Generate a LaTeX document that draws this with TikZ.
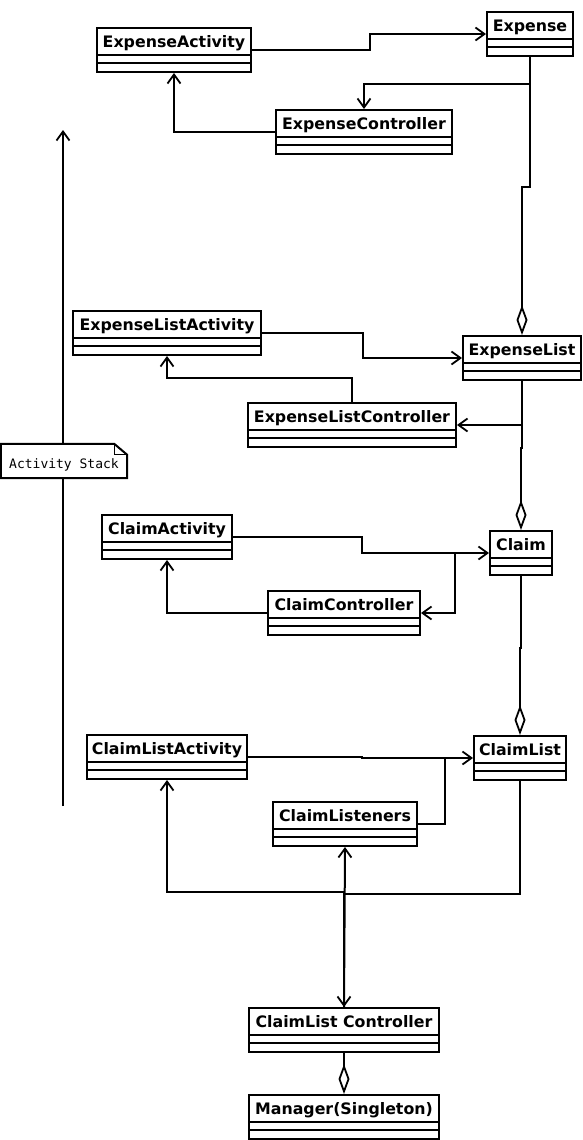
\documentclass[tikz,border=0pt]{standalone}
\usepackage{fontspec}
\newfontfamily\umlfont{DejaVu Sans}
\newfontfamily\notefont{DejaVu Sans Mono}
\usetikzlibrary{arrows.meta,calc}
\tikzset{
  cls/.style={draw, line width=2pt, fill=white, minimum height=44pt, inner sep=0pt},
  clsname/.style={font=\umlfont\bfseries\fontsize{15.8}{18}\selectfont, anchor=base, inner sep=0pt},
  conn/.style={line width=2pt},
  assoc/.style={conn, -{Straight Barb[length=9pt,width=13pt,line width=1.8pt]}},
  aggr/.style={conn, {Diamond[open,length=30pt,width=11pt,line width=1.8pt]}-},
}
\newcommand\umlclass[5]{%
  \node[cls, minimum width=#4pt] (#1) at (#2,#3) {};
  \draw[line width=2pt] ($(#1.north west)+(0,28)$) -- ($(#1.north east)+(0,28)$);
  \draw[line width=2pt] ($(#1.north west)+(0,36)$) -- ($(#1.north east)+(0,36)$);
  \node[clsname] at ($(#1.north)+(0,20.5)$) {#5};
}
\begin{document}
\begin{tikzpicture}[x=1pt,y=-1pt]
\useasboundingbox[fill=white] (0,0) rectangle (582,1140);

% activity stack line
\coordinate (stackTop) at (63,130);
\coordinate (stackBot) at (63,806);
\draw[assoc] (stackBot) -- (stackTop);

% classes
\umlclass{EA}{174}{50}{154}{ExpenseActivity}
\umlclass{E}{530}{34}{86}{Expense}
\umlclass{EC}{364}{132}{176}{ExpenseController}
\umlclass{ELA}{167}{333}{188}{ExpenseListActivity}
\umlclass{EL}{522}{358}{118}{ExpenseList}
\umlclass{ELC}{352}{425}{208}{ExpenseListController}
\umlclass{CA}{167}{537}{130}{ClaimActivity}
\umlclass{C}{521}{553}{62}{Claim}
\umlclass{CC}{344}{613}{152}{ClaimController}
\umlclass{CLA}{167}{757}{160}{ClaimListActivity}
\umlclass{CL}{520}{758}{92}{ClaimList}
\umlclass{CLs}{345}{824}{144}{ClaimListeners}
\umlclass{CLC}{344}{1030}{190}{ClaimList Controller}
\umlclass{M}{344}{1117}{190}{Manager(Singleton)}

% note
\node[minimum width=126pt, minimum height=34pt, inner sep=0pt] (note) at (64,461) {};
\draw[line width=2pt, fill=white] (note.north west) -- ($(note.north east)+(-13,0)$) -- ($(note.north east)+(0,11)$) -- (note.south east) -- (note.south west) -- cycle;
\draw[line width=1pt] ($(note.north east)+(-13,0)$) |- ($(note.north east)+(0,11)$);
\node[font=\notefont\fontsize{13}{15}\selectfont, anchor=base, inner sep=0pt] (notetext) at (64,468) {Activity Stack};

% connectors
\draw[assoc] (EA.east) -- ++(118,0) |- (E.west);
\draw[assoc] (E.south) -- ++(0,27) -| (EC.north);
\draw[aggr] (EL.north) -- ++(0,-148) -| (E.south);
\draw[assoc] (EC.west) -| (EA.south);
\draw[assoc] (ELA.east) -- ++(101,0) |- (EL.west);
\draw[assoc] (ELC.north) -- ++(0,-24) -| (ELA.south);
\draw[assoc] (EL.south) |- (ELC.east);
\draw[aggr] (C.north) -- ++(0,-82) -| (EL.south);
\draw[assoc] (CA.east) -- ++(129,0) |- (C.west);
\draw[assoc] ($(C.west)+(-34,0)$) |- (CC.east);
\draw[assoc] (CC.west) -| (CA.south);
\draw[aggr] (CL.north) -- ++(0,-87) -| (C.south);
\draw[assoc] (CLA.east) -- ++(114,0) |- (CL.west);
\draw[conn] (CLs.east) -| ($(CL.west)+(-28,0)$);
\draw[assoc] (CL.south) -- ++(0,113) -| (CLC.north);
\draw[assoc] (CLC.north) -- ++(0,-115) -| (CLA.south);
\draw[assoc] (CLC.north) -- (CLs.south);
\draw[aggr] (M.north) -- (CLC.south);
\end{tikzpicture}
\end{document}
